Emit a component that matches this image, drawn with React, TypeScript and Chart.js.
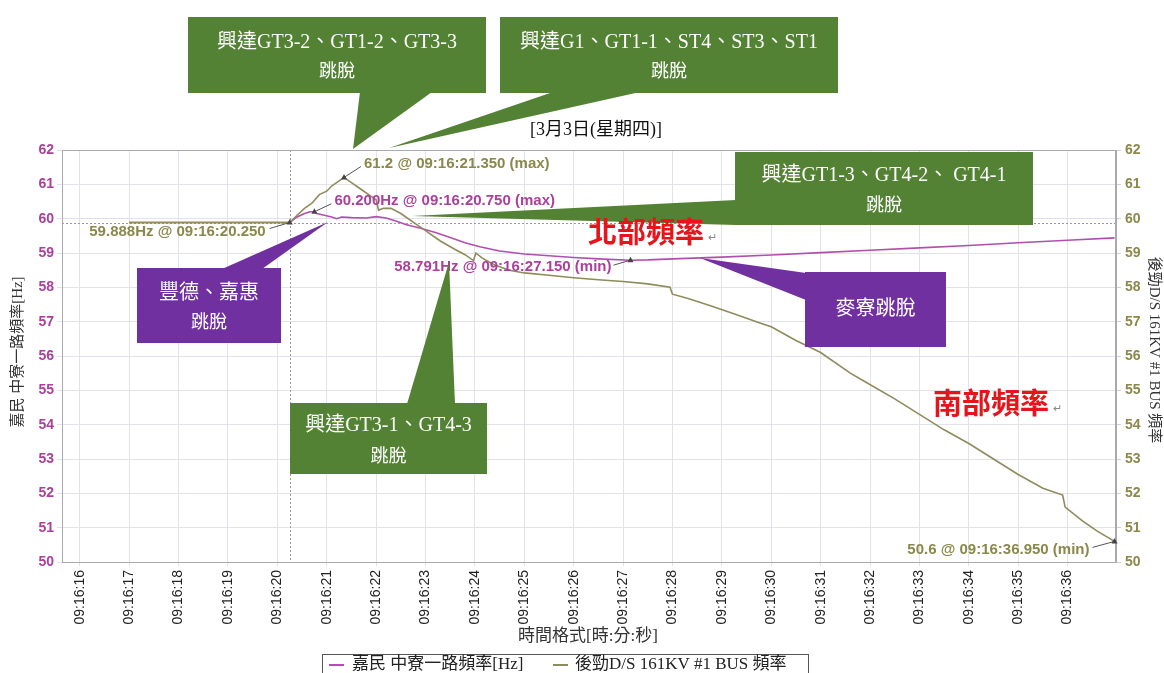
import React, { useEffect, useRef } from "react";
import { Chart, registerables } from "chart.js";

Chart.register(...registerables);

// ---------- data ----------
const seriesNames = ["嘉民 中寮一路頻率[Hz]", "後勁D/S 161KV #1 BUS 頻率"];

// northern frequency (嘉民 中寮一路), seconds after 09:16:00
const northTimes = [17.0, 20.25, 20.4, 20.55, 20.66, 20.75, 20.8, 20.95, 21.1, 21.2, 21.3, 21.5, 21.8, 22.0, 22.2, 22.4, 22.6, 22.9, 23.2, 23.5, 23.8, 24.1, 24.5, 25.0, 25.5, 26.0, 26.5, 27.15, 27.5, 28.0, 29.0, 30.0, 31.0, 32.0, 33.0, 34.0, 35.0, 36.0, 36.95];
const northValues = [59.89, 59.89, 60.05, 60.15, 60.2, 60.2, 60.15, 60.1, 60.05, 60.0, 60.05, 60.03, 60.02, 60.06, 60.02, 59.93, 59.83, 59.72, 59.6, 59.45, 59.3, 59.18, 59.06, 58.97, 58.92, 58.87, 58.83, 58.791, 58.8, 58.83, 58.88, 58.94, 59.01, 59.08, 59.15, 59.22, 59.3, 59.37, 59.44];

// southern frequency (後勁D/S 161KV #1 BUS)
const southTimes = [17.0, 20.25, 20.4, 20.55, 20.7, 20.85, 21.0, 21.1, 21.25, 21.35, 21.5, 21.7, 21.9, 22.0, 22.05, 22.15, 22.3, 22.5, 22.8, 23.0, 23.3, 23.6, 23.8, 23.97, 24.02, 24.15, 24.4, 24.7, 25.0, 25.5, 26.0, 26.5, 27.0, 27.5, 27.95, 28.0, 28.3, 28.8, 29.3, 29.8, 30.0, 30.5, 31.0, 31.6, 31.9, 32.5, 33.0, 33.5, 34.0, 34.5, 35.0, 35.5, 35.9, 35.95, 36.3, 36.6, 36.95];
const southValues = [59.89, 59.888, 60.1, 60.3, 60.45, 60.7, 60.8, 60.95, 61.1, 61.2, 61.05, 60.85, 60.65, 60.55, 60.25, 60.3, 60.3, 60.15, 59.85, 59.65, 59.35, 59.1, 58.95, 58.78, 59.0, 58.85, 58.65, 58.5, 58.42, 58.35, 58.28, 58.22, 58.17, 58.1, 58.0, 57.8, 57.68, 57.45, 57.2, 56.95, 56.85, 56.45, 56.1, 55.5, 55.25, 54.75, 54.3, 53.85, 53.45, 53.0, 52.55, 52.15, 51.95, 51.6, 51.2, 50.9, 50.6];

const xTickValues = [16, 17, 18, 19, 20, 21, 22, 23, 24, 25, 26, 27, 28, 29, 30, 31, 32, 33, 34, 35, 36];
const xTickLabels = ["09:16:16", "09:16:17", "09:16:18", "09:16:19", "09:16:20", "09:16:21", "09:16:22", "09:16:23", "09:16:24", "09:16:25", "09:16:26", "09:16:27", "09:16:28", "09:16:29", "09:16:30", "09:16:31", "09:16:32", "09:16:33", "09:16:34", "09:16:35", "09:16:36"];

// extreme-value markers
const extremaSeries = [1, 0, 1, 0, 1];
const extremaTimes = [21.35, 20.75, 20.25, 27.15, 36.95];
const extremaValues = [61.2, 60.2, 59.888, 58.791, 50.6];
const extremaTexts = ["61.2 @ 09:16:21.350 (max)", "60.200Hz @ 09:16:20.750 (max)", "59.888Hz @ 09:16:20.250", "58.791Hz @ 09:16:27.150 (min)", "50.6 @ 09:16:36.950 (min)"];

const chartTitle = "[3月3日(星期四)]";
const xAxisTitle = "時間格式[時:分:秒]";
const regionLabels = ["北部頻率", "南部頻率"];
const calloutTexts = [
  ["興達GT3-2、GT1-2、GT3-3", "跳脫"],
  ["興達G1、GT1-1、ST4、ST3、ST1", "跳脫"],
  ["興達GT1-3、GT4-2、 GT4-1", "跳脫"],
  ["豐德、嘉惠", "跳脫"],
  ["麥寮跳脫"],
  ["興達GT3-1、GT4-3", "跳脫"],
];

// ---------- styles / layout (decorations) ----------
const PURPLE_LINE = "#b14fae";
const OLIVE_LINE = "#8e8c5c";
const PURPLE_TEXT = "#ab3f9c";
const OLIVE_TEXT = "#8a884a";
const GREEN = "#548235";
const VIOLET = "#7030a0";
const SANS = "'Liberation Sans', Arial, sans-serif";
const SERIF = "'Liberation Serif', 'Noto Sans CJK TC', serif";
const CJK = "'Noto Sans CJK TC', sans-serif";

// label offsets relative to the marker: [dx, dy, align, leaderDx, leaderDy]
const extremaLabelLayout: [number, number, CanvasTextAlign, number, number][] = [
  [20, -14, "left", 17, -11],
  [20, -11, "left", 17, -8],
  [-24, 9, "right", -20, 6],
  [-19, 7, "right", -17, 5],
  [-25, 8, "right", -22, 6],
];

const calloutLayout = [
  { rect: [188, 17, 298, 76], ptr: [[360, 92], [432, 92], [353, 149]], color: GREEN, lines: [43, 72] },
  { rect: [500, 17, 338, 76], ptr: [[553, 92], [640, 92], [389, 148]], color: GREEN, lines: [43, 72] },
  { rect: [735, 152, 298, 73], ptr: [[736, 200], [736, 225], [412, 216]], color: GREEN, lines: [176, 206] },
  { rect: [137, 268, 144, 75], ptr: [[222, 269], [262, 269], [328, 222]], color: VIOLET, lines: [294, 323] },
  { rect: [805, 272, 141, 75], ptr: [[806, 273], [806, 300], [700, 258]], color: VIOLET, lines: [310] },
  { rect: [290, 403, 197, 71], ptr: [[407, 404], [455, 404], [449, 262]], color: GREEN, lines: [426, 457] },
];

const overlayPlugin = {
  id: "overlay",
  beforeDraw(chart: any) {
    const ctx = chart.ctx;
    ctx.save();
    ctx.fillStyle = "#ffffff";
    ctx.fillRect(0, 0, chart.width, chart.height);
    ctx.restore();
  },
  beforeDatasetsDraw(chart: any) {
    const { ctx, chartArea, scales } = chart;
    ctx.save();
    ctx.strokeStyle = "#9a9aa6";
    ctx.lineWidth = 1;
    ctx.setLineDash([2, 2]);
    const yc = Math.round(scales.y2.getPixelForValue(extremaValues[2])) + 0.5;
    ctx.beginPath();
    ctx.moveTo(chartArea.left, yc);
    ctx.lineTo(chartArea.right, yc);
    const xc = Math.round(scales.x.getPixelForValue(extremaTimes[2])) + 0.5;
    ctx.moveTo(xc, chartArea.top);
    ctx.lineTo(xc, chartArea.bottom);
    ctx.stroke();
    ctx.restore();
  },
  afterDraw(chart: any) {
    const { ctx, chartArea, scales } = chart;
    ctx.save();
    // plot frame
    ctx.strokeStyle = "#a9a9b0";
    ctx.lineWidth = 1;
    ctx.strokeRect(chartArea.left + 0.5, chartArea.top + 0.5, chartArea.right - chartArea.left - 1, chartArea.bottom - chartArea.top);

    // extrema markers + labels
    extremaTimes.forEach((t, i) => {
      const yScale = extremaSeries[i] === 0 ? scales.y : scales.y2;
      const px = scales.x.getPixelForValue(t);
      const py = yScale.getPixelForValue(extremaValues[i]);
      const [dx, dy, align, ldx, ldy] = extremaLabelLayout[i];
      ctx.strokeStyle = "#555555";
      ctx.fillStyle = "#444444";
      ctx.lineWidth = 1;
      ctx.setLineDash([]);
      ctx.beginPath();
      ctx.moveTo(px, py);
      ctx.lineTo(px + ldx, py + ldy);
      ctx.stroke();
      ctx.beginPath();
      ctx.moveTo(px, py - 3.5);
      ctx.lineTo(px - 3, py + 2);
      ctx.lineTo(px + 3, py + 2);
      ctx.closePath();
      ctx.fill();
      ctx.font = `bold 15px ${SANS}`;
      ctx.fillStyle = extremaSeries[i] === 0 ? PURPLE_TEXT : OLIVE_TEXT;
      ctx.textAlign = align;
      ctx.textBaseline = "middle";
      ctx.fillText(extremaTexts[i], px + dx, py + dy);
    });

    // callouts
    calloutLayout.forEach((c, i) => {
      const [x, y, w, h] = c.rect;
      ctx.fillStyle = c.color;
      ctx.fillRect(x, y, w, h);
      ctx.beginPath();
      ctx.moveTo(c.ptr[0][0], c.ptr[0][1]);
      ctx.lineTo(c.ptr[1][0], c.ptr[1][1]);
      ctx.lineTo(c.ptr[2][0], c.ptr[2][1]);
      ctx.closePath();
      ctx.fill();
      ctx.fillStyle = "#ffffff";
      ctx.textAlign = "center";
      ctx.textBaseline = "middle";
      calloutTexts[i].forEach((line, j) => {
        ctx.font = j === 0 ? `20px ${SERIF}` : `18px ${SERIF}`;
        ctx.fillText(line, x + w / 2, c.lines[j]);
      });
    });

    // red region labels
    ctx.textAlign = "left";
    ctx.textBaseline = "middle";
    ctx.fillStyle = "#e8141b";
    ctx.font = `bold 29px ${CJK}`;
    ctx.fillText(regionLabels[0], 588, 232);
    ctx.fillText(regionLabels[1], 933, 403);
    ctx.fillStyle = "#888888";
    ctx.font = `11px ${SANS}`;
    ctx.fillText("↵", 708, 238);
    ctx.fillText("↵", 1053, 409);

    // title
    ctx.fillStyle = "#111111";
    ctx.textAlign = "center";
    ctx.font = `18px ${SERIF}`;
    ctx.fillText(chartTitle, 596, 130);

    // x axis title
    ctx.fillStyle = "#333333";
    ctx.font = `17px ${SERIF}`;
    ctx.fillText(xAxisTitle, 588, 637);

    // y axis titles
    ctx.save();
    ctx.translate(18, 352);
    ctx.rotate(-Math.PI / 2);
    ctx.font = `15px ${SERIF}`;
    ctx.fillText(seriesNames[0], 0, 0);
    ctx.restore();
    ctx.save();
    ctx.translate(1154, 350);
    ctx.rotate(Math.PI / 2);
    ctx.font = `15px ${SERIF}`;
    ctx.fillText(seriesNames[1], 0, 0);
    ctx.restore();

    // legend
    ctx.strokeStyle = "#555555";
    ctx.lineWidth = 1;
    ctx.strokeRect(322.5, 654.5, 486, 24);
    ctx.lineWidth = 2;
    ctx.strokeStyle = PURPLE_LINE;
    ctx.beginPath();
    ctx.moveTo(329, 665);
    ctx.lineTo(344, 665);
    ctx.stroke();
    ctx.strokeStyle = OLIVE_LINE;
    ctx.beginPath();
    ctx.moveTo(553, 665);
    ctx.lineTo(568, 665);
    ctx.stroke();
    ctx.fillStyle = "#222222";
    ctx.textAlign = "left";
    ctx.font = `17px ${SERIF}`;
    ctx.fillText(seriesNames[0], 352, 665);
    ctx.fillText(seriesNames[1], 575, 665);
    ctx.restore();
  },
};

export default function App() {
  const canvasRef = useRef<HTMLCanvasElement | null>(null);

  useEffect(() => {
    if (!canvasRef.current) return;
    const chart = new Chart(canvasRef.current, {
      type: "line",
      data: {
        datasets: [
          {
            label: seriesNames[0],
            data: northTimes.map((t, i) => ({ x: t, y: northValues[i] })),
            borderColor: PURPLE_LINE,
            backgroundColor: PURPLE_LINE,
            borderWidth: 1.6,
            pointRadius: 0,
            tension: 0,
            yAxisID: "y",
            order: 1,
          },
          {
            label: seriesNames[1],
            data: southTimes.map((t, i) => ({ x: t, y: southValues[i] })),
            borderColor: OLIVE_LINE,
            backgroundColor: OLIVE_LINE,
            borderWidth: 1.6,
            pointRadius: 0,
            tension: 0,
            yAxisID: "y2",
            order: 0,
          },
        ],
      },
      options: {
        responsive: false,
        animation: false,
        layout: { padding: { top: 150, left: 0, right: 0, bottom: 0 } },
        plugins: {
          legend: { display: false },
          tooltip: { enabled: false },
          title: { display: false },
        },
        scales: {
          x: {
            type: "linear",
            min: 15.64,
            max: 36.98,
            afterBuildTicks: (axis: any) => {
              axis.ticks = xTickValues.map((v) => ({ value: v }));
            },
            afterFit: (axis: any) => {
              axis.height = 111;
            },
            ticks: {
              autoSkip: false,
              minRotation: 90,
              maxRotation: 90,
              padding: 4,
              color: "#222222",
              font: { family: SANS, size: 14 },
              callback: (v: any) => {
                const idx = xTickValues.indexOf(Number(v));
                return idx >= 0 ? xTickLabels[idx] : "";
              },
            },
            grid: { color: "#e2e2ec", tickLength: 4 },
            border: { color: "#a9a9b0" },
          },
          y: {
            position: "left",
            min: 50,
            max: 62,
            afterFit: (axis: any) => {
              axis.width = 62;
            },
            ticks: {
              stepSize: 1,
              padding: 3,
              color: PURPLE_TEXT,
              font: { family: SANS, size: 14, weight: "bold" },
            },
            grid: { color: "#e2e2ec", tickLength: 5 },
            border: { color: "#a9a9b0" },
          },
          y2: {
            position: "right",
            min: 50,
            max: 62,
            afterFit: (axis: any) => {
              axis.width = 48;
            },
            ticks: {
              stepSize: 1,
              padding: 4,
              color: OLIVE_TEXT,
              font: { family: SANS, size: 14, weight: "bold" },
            },
            grid: { drawOnChartArea: false, color: "#d0d0d8", tickLength: 5 },
            border: { color: "#a9a9b0" },
          },
        },
      },
      plugins: [overlayPlugin],
    } as any);
    return () => chart.destroy();
  }, []);

  return (
    <div style={{ position: "fixed", left: 0, top: 0, width: 1164, height: 673, background: "#fff" }}>
      <canvas ref={canvasRef} width={1164} height={673} style={{ display: "block", width: 1164, height: 673 }} />
    </div>
  );
}
